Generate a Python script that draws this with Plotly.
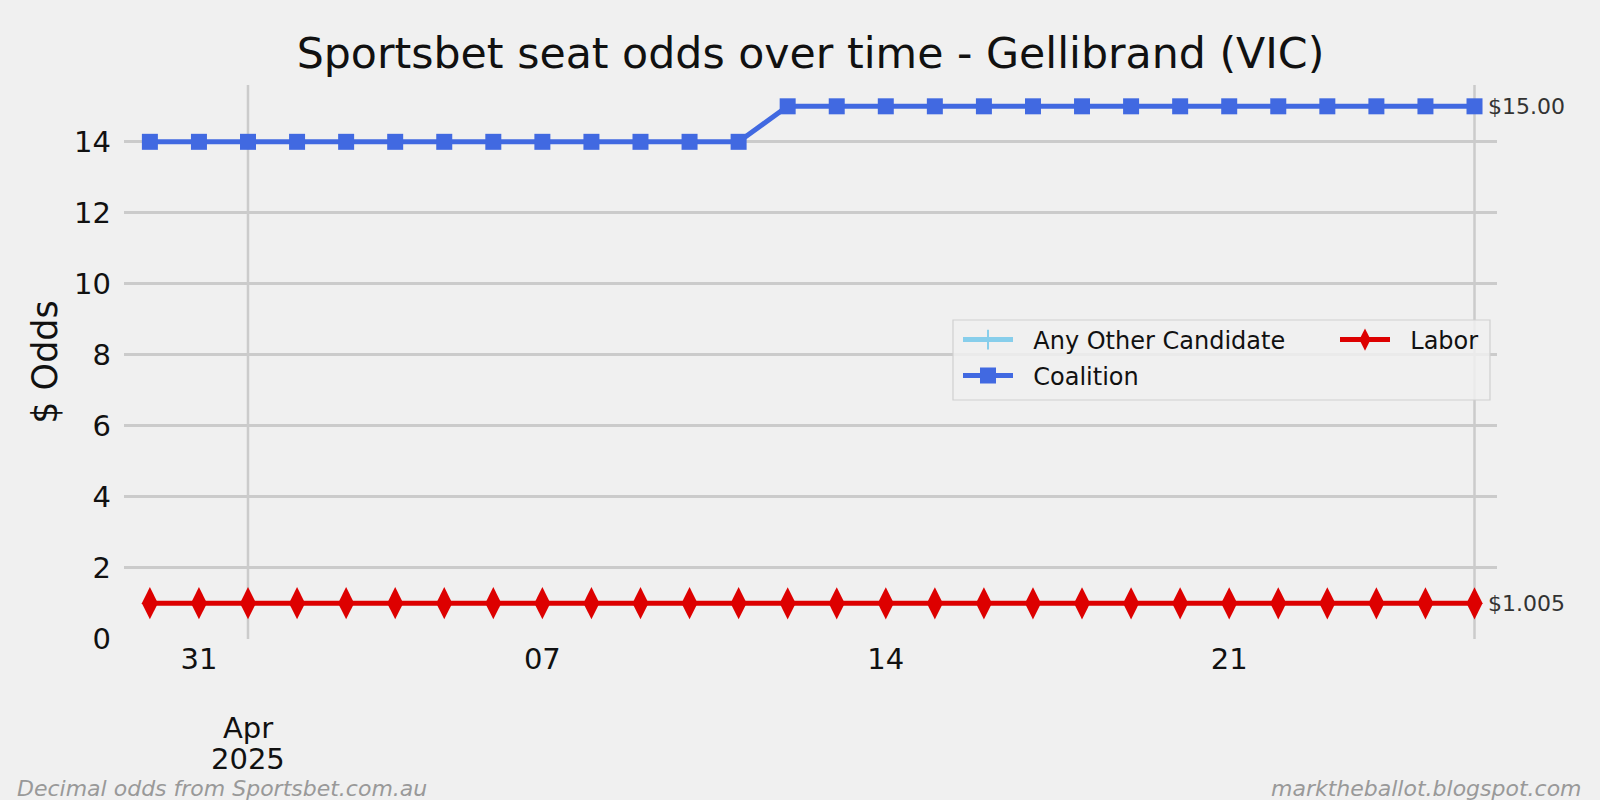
import plotly.graph_objects as go

# ---------------- data ----------------
dates = [
    "2025-03-30", "2025-03-31", "2025-04-01", "2025-04-02", "2025-04-03",
    "2025-04-04", "2025-04-05", "2025-04-06", "2025-04-07", "2025-04-08",
    "2025-04-09", "2025-04-10", "2025-04-11", "2025-04-12", "2025-04-13",
    "2025-04-14", "2025-04-15", "2025-04-16", "2025-04-17", "2025-04-18",
    "2025-04-19", "2025-04-20", "2025-04-21", "2025-04-22", "2025-04-23",
    "2025-04-24", "2025-04-25", "2025-04-26",
]
any_other = [None] * len(dates)
coalition = [14, 14, 14, 14, 14, 14, 14, 14, 14, 14, 14, 14, 14,
             15, 15, 15, 15, 15, 15, 15, 15, 15, 15, 15, 15, 15, 15, 15]
labor = [1.01, 1.01, 1.01, 1.01, 1.01, 1.01, 1.01, 1.01, 1.01, 1.01, 1.01, 1.01, 1.01,
         1.005, 1.005, 1.005, 1.005, 1.005, 1.005, 1.005, 1.005, 1.005, 1.005, 1.005,
         1.005, 1.005, 1.005, 1.005]
end_labels = {"Coalition": "$15.00", "Labor": "$1.005"}

x_tickvals = ["2025-03-31", "2025-04-07", "2025-04-14", "2025-04-21"]
x_ticktext = ["31", "07", "14", "21"]
major_tick = "2025-04-01"
major_label = ["Apr", "2025"]
y_ticks = [0, 2, 4, 6, 8, 10, 12, 14]

# ---------------- style ----------------
BG = "#f0f0f0"
GRID = "#cbcbcb"
FONT = "DejaVu Sans"
W, H = 1600, 800
L, R, T, B = 124, 103, 85, 161
PW, PH = W - L - R, H - T - B
NB = "\u00a0\u00a0"

def px(xp):
    return (xp - L) / PW

def py(yp):
    return (H - B - yp) / PH

fig = go.Figure()

fig.add_trace(go.Scatter(
    x=dates, y=any_other, name=NB + "Any Other Candidate", mode="lines+markers",
    line=dict(color="#87ceeb", width=5),
    marker=dict(symbol="line-ns", size=14, line=dict(color="#87ceeb", width=2)),
    legend="legend",
))
fig.add_trace(go.Scatter(
    x=dates, y=coalition, name=NB + "Coalition", mode="lines+markers",
    line=dict(color="#4169e1", width=5),
    marker=dict(symbol="square", size=16, color="#4169e1"),
    legend="legend2",
))
fig.add_trace(go.Scatter(
    x=dates, y=labor, name=NB + "Labor", mode="lines+markers",
    line=dict(color="#dd0000", width=5),
    marker=dict(symbol="diamond-tall", size=23, color="#dd0000"),
    legend="legend3",
))

# end-of-line value labels
for name, series in (("Coalition", coalition), ("Labor", labor)):
    fig.add_annotation(
        x=dates[-1], y=series[-1], text=end_labels[name], showarrow=False,
        xanchor="left", yanchor="middle", xshift=11,
        font=dict(family=FONT, size=22, color="#333333"),
    )

# major tick label (month / year), two lines
for txt, yc in zip(major_label, (728, 759)):
    fig.add_annotation(
        x=major_tick, y=py(yc), yref="paper", text=txt, showarrow=False,
        xanchor="center", yanchor="middle",
        font=dict(family=FONT, size=29, color="#111111"),
    )

# vertical lines: major tick gridline and last-date marker
for xv in (major_tick, dates[-1]):
    fig.add_shape(type="line", x0=xv, x1=xv, y0=0, y1=1, yref="paper",
                  line=dict(color=GRID, width=2.5), layer="below")

# legend box
fig.add_shape(type="rect", xref="paper", yref="paper",
              x0=px(953), x1=px(1490), y0=py(400), y1=py(320),
              fillcolor="rgba(240,240,240,0.85)", line=dict(color="#d0d0d0", width=1.2),
              layer="above")

# footnotes
fig.add_annotation(x=px(15), xref="paper", y=py(788), yref="paper",
                   text="Decimal odds from Sportsbet.com.au",
                   showarrow=False, xanchor="left", yanchor="middle",
                   font=dict(family=FONT, size=22, color="#999999", style="italic"))
fig.add_annotation(x=px(1584), xref="paper", y=py(788), yref="paper",
                   text="marktheballot.blogspot.com",
                   showarrow=False, xanchor="right", yanchor="middle",
                   font=dict(family=FONT, size=22, color="#999999", style="italic"))

leg_common = dict(bgcolor="rgba(0,0,0,0)", borderwidth=0, itemwidth=50,
                  font=dict(family=FONT, size=24, color="#111111"),
                  xanchor="left", yanchor="middle")

fig.update_layout(
    width=W, height=H,
    paper_bgcolor=BG, plot_bgcolor=BG,
    margin=dict(l=L, r=R, t=T, b=B, pad=0),
    font=dict(family=FONT, color="#111111"),
    title=dict(text="Sportsbet seat odds over time - Gellibrand (VIC)",
               x=0.5, xref="paper", xanchor="center",
               y=1 - 53 / H, yref="container", yanchor="middle",
               font=dict(family=FONT, size=42.7, color="#111111")),
    showlegend=True,
    legend=dict(x=px(958), y=py(340), **leg_common),
    legend2=dict(x=px(958), y=py(376), **leg_common),
    legend3=dict(x=px(1335), y=py(340), **leg_common),
    xaxis=dict(
        type="date", range=["2025-03-29 11:20", "2025-04-26 11:00"],
        tickmode="array", tickvals=x_tickvals, ticktext=x_ticktext,
        showgrid=False, zeroline=False, showline=False, ticks="",
        tickfont=dict(family=FONT, size=29, color="#111111"),
        ticklabelstandoff=0,
    ),
    yaxis=dict(
        range=[0, 15.6], tickmode="array", tickvals=y_ticks,
        showgrid=False, zeroline=False, showline=False, ticks="",
        tickfont=dict(family=FONT, size=29, color="#111111"),
        ticklabelstandoff=12,
        minor=dict(tickmode="array", tickvals=y_ticks[1:], showgrid=True,
                   gridcolor=GRID, gridwidth=2.5, ticks=""),
        title=dict(text="$ Odds", font=dict(family=FONT, size=35, color="#111111"), standoff=5),
    ),
)

fig.write_html("out.html", config={"displayModeBar": False},
               post_script="document.body.style.margin='0px';")
